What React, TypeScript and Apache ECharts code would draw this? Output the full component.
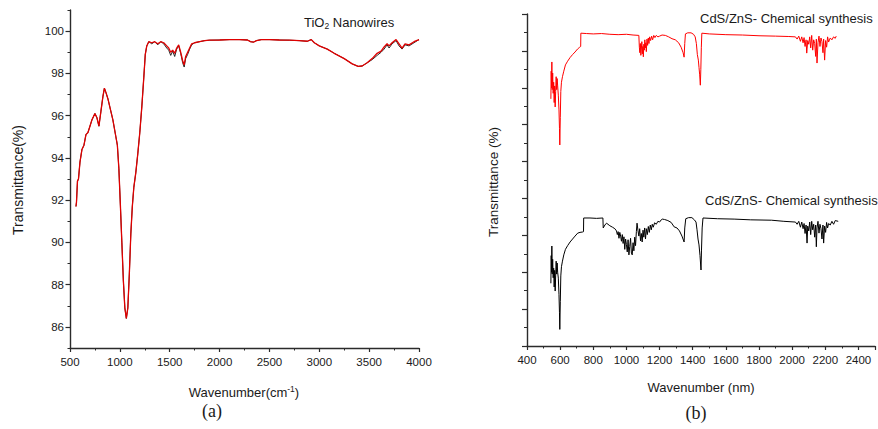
import React, { useEffect, useRef } from "react";
import * as echarts from "echarts";

// ---------- (a) TiO2 nanowires FTIR ----------
const tioX = [560, 565, 575, 585, 600, 620, 640, 660, 680, 700, 720, 750, 770, 790, 810, 830, 845, 860, 880, 900, 930, 960, 975, 990, 1005, 1020, 1035, 1050, 1065, 1080, 1095, 1110, 1125, 1140, 1160, 1180, 1200, 1220, 1240, 1255, 1270, 1290, 1320, 1350, 1380, 1410, 1440, 1470, 1490, 1510, 1530, 1550, 1570, 1590, 1610, 1630, 1645, 1660, 1680, 1700, 1720, 1750, 1800, 1850, 1900, 2000, 2100, 2200, 2280, 2310, 2340, 2370, 2420, 2500, 2600, 2700, 2800, 2880, 2920, 2950, 3000, 3080, 3150, 3250, 3330, 3390, 3430, 3480, 3530, 3580, 3620, 3650, 3680, 3700, 3730, 3770, 3800, 3830, 3860, 3900, 3950, 4000];
const tioRedY = [91.7, 91.9, 92.9, 93.0, 93.8, 94.4, 94.6, 95.1, 95.2, 95.5, 95.8, 96.1, 95.9, 95.5, 96.2, 96.9, 97.3, 97.1, 96.8, 96.4, 95.8, 95.0, 94.6, 93.5, 91.8, 90.0, 88.2, 86.9, 86.4, 86.9, 88.5, 90.4, 91.7, 92.6, 93.3, 94.2, 95.2, 96.4, 97.8, 98.9, 99.3, 99.5, 99.45, 99.5, 99.4, 99.5, 99.45, 99.3, 99.2, 99.0, 99.1, 98.95, 99.2, 99.35, 99.0, 98.6, 98.4, 98.8, 99.0, 99.2, 99.4, 99.45, 99.5, 99.55, 99.57, 99.58, 99.6, 99.6, 99.58, 99.5, 99.48, 99.55, 99.6, 99.6, 99.58, 99.57, 99.55, 99.52, 99.6, 99.45, 99.3, 99.15, 98.95, 98.7, 98.45, 98.33, 98.35, 98.5, 98.7, 98.95, 99.05, 99.25, 99.4, 99.3, 99.45, 99.6, 99.4, 99.2, 99.4, 99.35, 99.5, 99.6];
const tioBlackY = [91.7, 91.9, 92.9, 93.0, 93.8, 94.4, 94.6, 95.1, 95.2, 95.5, 95.8, 96.1, 95.9, 95.5, 96.2, 96.9, 97.3, 97.1, 96.8, 96.4, 95.8, 95.0, 94.6, 93.5, 91.8, 90.0, 88.2, 86.9, 86.4, 86.9, 88.5, 90.4, 91.7, 92.6, 93.3, 94.2, 95.2, 96.4, 97.8, 98.9, 99.3, 99.5, 99.4, 99.5, 99.35, 99.5, 99.4, 99.2, 99.1, 98.85, 99.05, 98.8, 99.15, 99.3, 98.95, 98.5, 98.3, 98.7, 98.9, 99.15, 99.35, 99.45, 99.5, 99.55, 99.57, 99.58, 99.6, 99.6, 99.58, 99.5, 99.48, 99.55, 99.6, 99.6, 99.58, 99.57, 99.55, 99.52, 99.6, 99.45, 99.3, 99.15, 98.95, 98.7, 98.45, 98.33, 98.35, 98.5, 98.65, 98.85, 99.0, 99.15, 99.35, 99.2, 99.4, 99.55, 99.3, 99.15, 99.35, 99.3, 99.45, 99.6];
const tioXTicks = [500, 4000, 500];
const tioYMajor = [86, 88, 90, 92, 94, 96, 98, 100];

// ---------- (b) CdS/ZnS chemical synthesis ----------
const cdsRedX = [544, 546, 548, 550, 552, 555, 558, 561, 564, 567, 570, 573, 576, 579, 582, 585, 589, 593, 596, 598, 601, 604, 608, 614, 622, 632, 645, 660, 675, 690, 705, 718, 724, 725, 760, 800, 850, 900, 950, 1000, 1040, 1075, 1078, 1081, 1084, 1087, 1090, 1093, 1096, 1099, 1102, 1105, 1108, 1111, 1114, 1117, 1120, 1124, 1128, 1132, 1136, 1140, 1146, 1152, 1158, 1165, 1172, 1180, 1190, 1200, 1215, 1235, 1255, 1275, 1295, 1315, 1330, 1342, 1348, 1352, 1356, 1370, 1390, 1405, 1415, 1422, 1428, 1434, 1438, 1442, 1446, 1449, 1452, 1455, 1500, 1600, 1700, 1800, 1900, 1980, 2020, 2030, 2040, 2050, 2058, 2066, 2072, 2078, 2084, 2088, 2094, 2100, 2106, 2112, 2118, 2124, 2130, 2136, 2142, 2146, 2150, 2156, 2162, 2168, 2174, 2180, 2186, 2190, 2196, 2202, 2208, 2214, 2220, 2230, 2240, 2250, 2260, 2266];
const cdsRedY = [6.70, 7.45, 7.00, 7.70, 6.95, 7.40, 6.85, 7.15, 6.60, 7.05, 6.48, 6.90, 7.30, 6.95, 7.25, 7.05, 6.80, 6.40, 5.90, 5.45, 6.20, 6.90, 7.15, 7.30, 7.45, 7.62, 7.72, 7.82, 7.90, 7.97, 8.05, 8.10, 8.12, 8.48, 8.47, 8.46, 8.47, 8.45, 8.44, 8.45, 8.43, 8.42, 8.10, 7.95, 8.20, 7.88, 8.05, 8.25, 7.92, 8.12, 7.84, 8.18, 8.02, 8.30, 8.08, 8.22, 7.98, 8.32, 8.15, 8.35, 8.20, 8.38, 8.28, 8.40, 8.30, 8.42, 8.36, 8.42, 8.38, 8.40, 8.43, 8.42, 8.38, 8.33, 8.30, 8.22, 8.10, 7.95, 7.83, 8.20, 8.46, 8.49, 8.49, 8.45, 8.38, 8.20, 7.90, 7.75, 7.55, 7.35, 7.07, 7.50, 8.10, 8.48, 8.46, 8.44, 8.43, 8.41, 8.40, 8.39, 8.38, 8.32, 8.40, 8.26, 8.38, 8.22, 8.36, 8.12, 8.30, 7.94, 8.28, 8.18, 8.38, 8.08, 8.42, 8.02, 8.30, 8.20, 7.85, 8.32, 7.67, 8.22, 8.40, 8.12, 8.35, 8.25, 7.95, 8.32, 7.75, 8.28, 8.10, 8.38, 8.24, 8.35, 8.30, 8.38, 8.34, 8.40, 8.38];
const cdsBlackX = [544, 546, 548, 550, 552, 555, 558, 561, 564, 567, 570, 573, 576, 579, 582, 585, 589, 593, 596, 598, 601, 604, 608, 614, 622, 632, 645, 660, 675, 690, 706, 720, 735, 741, 742, 780, 820, 858, 860, 870, 880, 900, 916, 930, 940, 945, 950, 955, 960, 965, 970, 975, 980, 985, 990, 995, 1000, 1005, 1010, 1015, 1020, 1025, 1030, 1035, 1040, 1045, 1050, 1055, 1060, 1064, 1070, 1075, 1080, 1085, 1090, 1095, 1100, 1105, 1110, 1115, 1120, 1126, 1132, 1138, 1144, 1150, 1156, 1162, 1170, 1180, 1190, 1200, 1210, 1216, 1230, 1250, 1270, 1288, 1305, 1320, 1335, 1348, 1352, 1358, 1375, 1395, 1410, 1420, 1426, 1432, 1438, 1444, 1450, 1453, 1457, 1462, 1550, 1650, 1750, 1876, 1950, 2020, 2030, 2040, 2050, 2058, 2066, 2072, 2078, 2084, 2090, 2094, 2100, 2106, 2112, 2118, 2124, 2130, 2136, 2142, 2146, 2150, 2156, 2162, 2168, 2174, 2180, 2186, 2190, 2196, 2202, 2208, 2214, 2220, 2230, 2240, 2250, 2260, 2278];
const cdsBlackY = [1.70, 2.45, 2.00, 2.71, 1.95, 2.35, 1.85, 2.11, 1.60, 2.05, 1.49, 1.90, 2.30, 1.95, 2.25, 2.00, 1.84, 1.40, 0.90, 0.45, 1.20, 1.90, 2.15, 2.30, 2.47, 2.62, 2.72, 2.82, 2.90, 2.98, 3.06, 3.08, 3.09, 3.10, 3.47, 3.47, 3.46, 3.47, 3.20, 3.28, 3.33, 3.26, 3.22, 3.18, 3.12, 3.02, 3.10, 2.92, 3.08, 2.98, 2.84, 3.02, 2.78, 2.96, 2.62, 2.90, 2.75, 2.55, 2.88, 2.47, 2.70, 2.92, 2.52, 2.47, 2.80, 2.58, 2.95, 2.72, 3.10, 3.33, 3.12, 2.98, 3.18, 2.85, 3.05, 2.82, 3.14, 2.95, 3.20, 2.90, 3.18, 3.02, 3.24, 3.08, 3.28, 3.15, 3.30, 3.22, 3.34, 3.30, 3.38, 3.36, 3.42, 3.44, 3.43, 3.40, 3.35, 3.23, 3.20, 3.12, 2.98, 2.82, 3.20, 3.45, 3.48, 3.48, 3.42, 3.36, 3.15, 2.90, 2.74, 2.45, 2.06, 2.60, 3.20, 3.47, 3.45, 3.44, 3.42, 3.41, 3.38, 3.36, 3.30, 3.38, 3.22, 3.36, 3.18, 3.32, 3.05, 3.28, 2.79, 3.25, 3.12, 3.36, 3.02, 3.38, 3.15, 3.30, 2.95, 3.28, 2.69, 3.20, 3.38, 3.06, 3.30, 3.18, 2.90, 3.28, 2.79, 3.25, 3.08, 3.35, 3.20, 3.32, 3.28, 3.38, 3.30, 3.40, 3.38];
const cdsXTicks = [400, 2500, 200];
const cdsYTicks = [0, 9, 1];

const titleA = "TiO";
const titleB = "CdS/ZnS- Chemical synthesis";

const pairs = (xs: number[], ys: number[]) => xs.map((x, i) => [x, ys[i]]);

const AX = "#2b2b2b";
const TXT = "#1a1a1a";
const SANS = "Liberation Sans, Arial, sans-serif";
const SERIF = "Liberation Serif, Times New Roman, serif";

export default function App() {
  const ref = useRef<HTMLDivElement>(null);
  useEffect(() => {
    if (!ref.current) return;
    const chart = echarts.init(ref.current, undefined, { renderer: "svg" });
    const axLine = { show: true, lineStyle: { color: AX, width: 1.4 } };
    const lbl = { color: TXT, fontFamily: SANS, fontSize: 11.5 };
    chart.setOption({
      animation: false,
      backgroundColor: "#ffffff",
      grid: [
        { left: 70, top: 10, width: 349, height: 338, containLabel: false },
        { left: 527, top: 14, width: 350, height: 332, containLabel: false },
      ],
      xAxis: [
        {
          type: "value", gridIndex: 0, min: tioXTicks[0], max: tioXTicks[1], interval: tioXTicks[2],
          axisLine: { ...axLine, onZero: false },
          axisTick: { show: true, length: 4, lineStyle: { color: AX, width: 1.2 } },
          minorTick: { show: true, splitNumber: 2, length: 2.5, lineStyle: { color: AX, width: 1 } },
          splitLine: { show: false },
          axisLabel: { ...lbl, margin: 8, formatter: (v: number) => String(v) },
        },
        {
          type: "value", gridIndex: 1, min: cdsXTicks[0], max: cdsXTicks[1], interval: cdsXTicks[2],
          axisLine: { ...axLine, onZero: false },
          axisTick: { show: true, length: 4, lineStyle: { color: AX, width: 1.2 } },
          minorTick: { show: true, splitNumber: 2, length: 2.5, lineStyle: { color: AX, width: 1 } },
          splitLine: { show: false },
          axisLabel: { ...lbl, margin: 8, formatter: (v: number) => (v % 200 === 0 ? String(v) : "") },
        },
      ],
      yAxis: [
        {
          type: "value", gridIndex: 0, min: 85, max: 101, interval: 1,
          axisLine: { ...axLine, onZero: false },
          axisTick: { show: true, length: 2.5, lineStyle: { color: AX, width: 1 } },
          splitLine: { show: false },
          axisLabel: { show: false },
        },
        {
          type: "value", gridIndex: 0, min: 85, max: 101, position: "left",
          axisLine: { show: false },
          axisTick: { show: true, length: 4.5, customValues: tioYMajor, lineStyle: { color: AX, width: 1.2 } },
          splitLine: { show: false },
          axisLabel: { ...lbl, margin: 6, customValues: tioYMajor },
        },
        {
          type: "value", gridIndex: 1, min: cdsYTicks[0], max: cdsYTicks[1], interval: cdsYTicks[2],
          axisLine: { ...axLine, onZero: false },
          axisTick: { show: true, length: 5, lineStyle: { color: AX, width: 1.2 } },
          minorTick: { show: true, splitNumber: 2, length: 3, lineStyle: { color: AX, width: 1 } },
          splitLine: { show: false },
          axisLabel: { show: false },
        },
      ],
      series: [
        {
          type: "line", xAxisIndex: 0, yAxisIndex: 0, showSymbol: false, symbol: "none",
          data: pairs(tioX, tioBlackY), lineStyle: { color: "#111111", width: 0.9 },
        },
        {
          type: "line", xAxisIndex: 0, yAxisIndex: 0, showSymbol: false, symbol: "none",
          data: pairs(tioX, tioRedY), lineStyle: { color: "#e00000", width: 1.3 },
        },
        {
          type: "line", xAxisIndex: 1, yAxisIndex: 2, showSymbol: false, symbol: "none",
          data: pairs(cdsRedX, cdsRedY), lineStyle: { color: "#ff0000", width: 1 },
        },
        {
          type: "line", xAxisIndex: 1, yAxisIndex: 2, showSymbol: false, symbol: "none",
          data: pairs(cdsBlackX, cdsBlackY), lineStyle: { color: "#000000", width: 1 },
        },
      ],
      graphic: [
        {
          type: "text", x: 304, y: 22,
          style: {
            text: `{a|${titleA}}{s|2}{a| Nanowires}`, verticalAlign: "middle", fill: TXT,
            rich: {
              a: { fontFamily: SANS, fontSize: 13, fill: TXT, lineHeight: 16, verticalAlign: "middle" },
              s: { fontFamily: SANS, fontSize: 8.5, fill: TXT, lineHeight: 16, verticalAlign: "bottom", padding: [8, 0, 0, 0] },
            },
          },
        },
        {
          type: "text", x: 700, y: 18,
          style: { text: titleB, fontFamily: SANS, fontSize: 13, fill: TXT, verticalAlign: "middle" },
        },
        {
          type: "text", x: 705, y: 200,
          style: { text: titleB, fontFamily: SANS, fontSize: 13, fill: TXT, verticalAlign: "middle" },
        },
        {
          type: "text", x: 18, y: 180, rotation: Math.PI / 2,
          style: { text: "Transmittance(%)", fontFamily: SANS, fontSize: 14, fill: TXT, align: "center", verticalAlign: "middle" },
        },
        {
          type: "text", x: 493, y: 182, rotation: Math.PI / 2,
          style: { text: "Transmittance (%)", fontFamily: SANS, fontSize: 13.5, fill: TXT, align: "center", verticalAlign: "middle" },
        },
        {
          type: "text", x: 244, y: 392,
          style: {
            text: "{a|Wavenumber(cm}{s|-1}{a|)}", align: "center", verticalAlign: "middle",
            rich: {
              a: { fontFamily: SANS, fontSize: 13, fill: TXT, lineHeight: 16, verticalAlign: "middle" },
              s: { fontFamily: SANS, fontSize: 8.5, fill: TXT, lineHeight: 16, verticalAlign: "top", padding: [0, 0, 8, 0] },
            },
          },
        },
        {
          type: "text", x: 701, y: 387,
          style: { text: "Wavenumber (nm)", fontFamily: SANS, fontSize: 13, fill: TXT, align: "center", verticalAlign: "middle" },
        },
        {
          type: "text", x: 212, y: 411,
          style: { text: "(a)", fontFamily: SERIF, fontSize: 18, fill: TXT, align: "center", verticalAlign: "middle" },
        },
        {
          type: "text", x: 696, y: 413,
          style: { text: "(b)", fontFamily: SERIF, fontSize: 18, fill: TXT, align: "center", verticalAlign: "middle" },
        },
      ],
    });
    return () => chart.dispose();
  }, []);
  return (
    <div
      ref={ref}
      style={{ position: "absolute", left: 0, top: 0, width: 878, height: 429, background: "#fff" }}
    />
  );
}
